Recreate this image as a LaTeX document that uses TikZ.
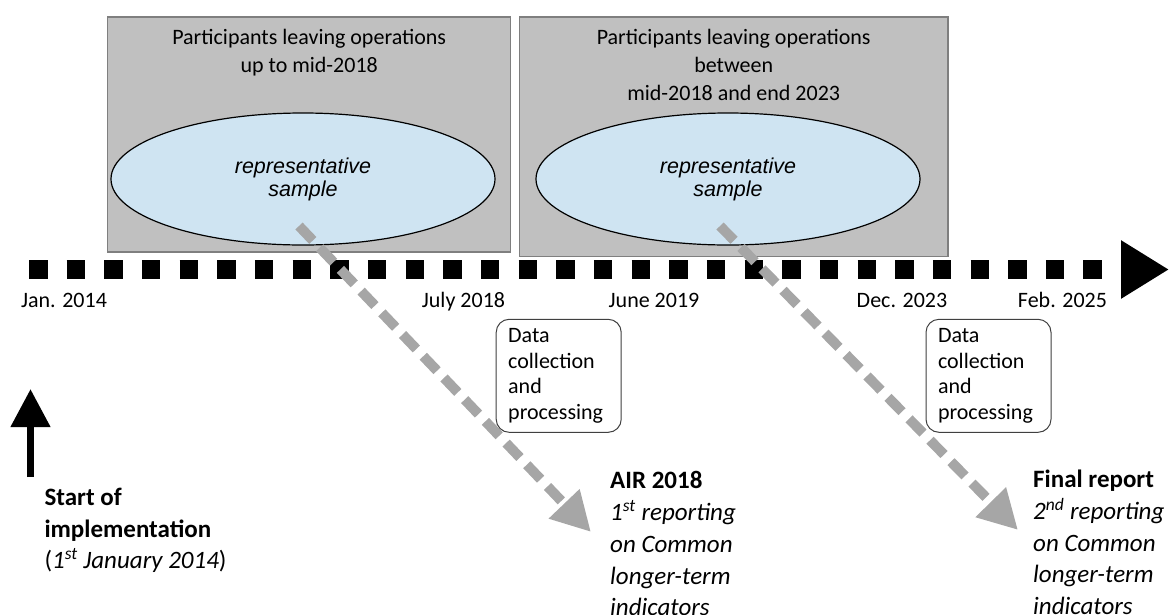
\documentclass[tikz,border=0pt]{standalone}
\usepackage{fontspec}
\setmainfont{Carlito}
\newfontfamily\arialfont{Liberation Sans}
\usetikzlibrary{arrows.meta,shapes.geometric,positioning}
\definecolor{periodfill}{RGB}{192,192,192}
\definecolor{periodline}{RGB}{127,127,127}
\definecolor{samplefill}{RGB}{207,228,242}
\definecolor{flowgray}{RGB}{166,166,166}
\tikzset{
  period/.style={draw=periodline,fill=periodfill,line width=1.2pt,inner sep=0pt},
  periodtitle/.style={inner sep=0pt,align=center,font=\fontsize{22}{28}\selectfont},
  samplebox/.style={ellipse,draw=black,fill=samplefill,line width=1.2pt,inner sep=0pt,
    minimum width=384pt,minimum height=132pt,align=center,
    font=\arialfont\itshape\fontsize{21.5}{23}\selectfont},
  timeline/.style={line width=19pt,dash pattern=on 18.5pt off 19.16pt,
    -{Triangle[length=48pt,width=55pt]}},
  datelabel/.style={inner sep=0pt,anchor=base,font=\fontsize{22}{26}\selectfont},
  collectbox/.style={draw=black!75,rounded corners=13pt,line width=1pt,fill=white,
    text width=101pt,inner xsep=12pt,minimum height=113pt,align=left,
    font=\fontsize{22}{25.5}\selectfont},
  flowarrow/.style={draw=flowgray,line width=10pt,dash pattern=on 20pt off 10pt,
    -{Triangle[length=39pt,width=40pt]}},
  kickoff/.style={line width=7.5pt,-{Triangle[length=38pt,width=38pt]}},
  reporttext/.style={inner sep=0pt,anchor=north west,align=left,
    font=\fontsize{25}{31.7}\selectfont},
}
\begin{document}
\begin{tikzpicture}[x=1pt,y=-1pt]
\useasboundingbox (0,0) rectangle (1169,614);
%Periods
\node[period,minimum width=403pt,minimum height=235pt] (p1) at (309.2,134.5) {};
\node[period,minimum width=428.7pt,minimum height=239.7pt] (p2) at (733.7,136.9) {};
\node[periodtitle,below=13pt of p1.north] (p1t) {Participants leaving operations\\up to mid-2018};
\node[periodtitle,below=13pt of p2.north] (p2t) {Participants leaving operations\\between\\mid-2018 and end 2023};
\node[samplebox] (s1) at (303,179) {representative\\sample};
\node[samplebox] (s2) at (728,179) {representative\\sample};
%Timeline
\coordinate (t0) at (29,269.5);
\coordinate (t1) at (1169,269.5);
\draw[timeline] (t0) -- (t1);
\node[datelabel] (d1) at (64,307) {Jan. 2014};
\node[datelabel] (d2) at (463.5,307) {July 2018};
\node[datelabel] (d3) at (654,307) {June 2019};
\node[datelabel] (d4) at (902,307) {Dec. 2023};
\node[datelabel] (d5) at (1062.5,307) {Feb. 2025};
%Data collection
\node[collectbox] (c1) at (558.7,375.8) {Data\\collection\\and\\processing};
\node[collectbox] (c2) at (988.5,375.8) {Data\\collection\\and\\processing};
%Reporting
\coordinate (f1a) at (299,226);
\coordinate (f1b) at (591,532);
\coordinate (f2a) at (720,226);
\coordinate (f2b) at (1018,530);
\draw[flowarrow] (f1a) -- (f1b);
\draw[flowarrow] (f2a) -- (f2b);
\coordinate (k0) at (30.5,477);
\coordinate (k1) at (30.5,389);
\draw[kickoff] (k0) -- (k1);
\node[reporttext] (r0) at (44.3,488) {\textbf{Start of}\\\textbf{implementation}\\(\textit{1\textsuperscript{st} January 2014})};
\node[reporttext] (r1) at (610,471.5) {\textbf{AIR 2018}\\\textit{1\textsuperscript{st} reporting}\\\textit{on Common}\\\textit{longer-term}\\\textit{indicators}};
\node[reporttext] (r2) at (1033,470) {\textbf{Final report}\\\textit{2\textsuperscript{nd} reporting}\\\textit{on Common}\\\textit{longer-term}\\\textit{indicators}};
\end{tikzpicture}
\end{document}
